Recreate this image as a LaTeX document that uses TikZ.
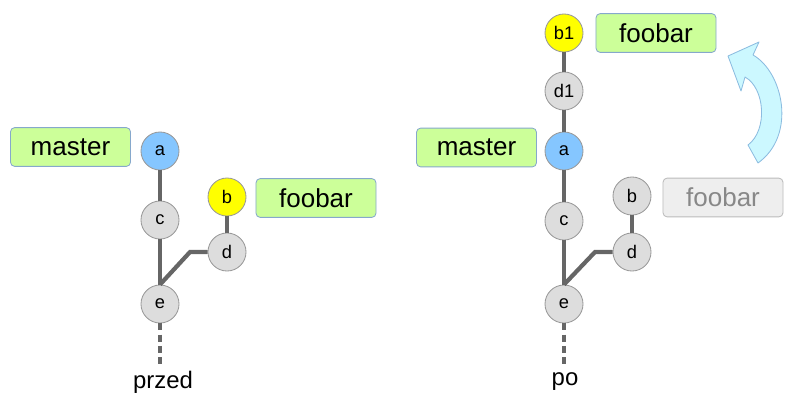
\documentclass[tikz,border=0pt]{standalone}
\usepackage{fontspec}
\setmainfont{Liberation Sans}
\usetikzlibrary{positioning}
\usetikzlibrary{calc}
\definecolor{edgegray}{HTML}{666666}
\definecolor{nodegray}{HTML}{DDDDDD}
\definecolor{rimgray}{HTML}{999999}
\definecolor{headblue}{HTML}{85C6FF}
\definecolor{tipyellow}{HTML}{FFFF00}
\definecolor{refgreen}{HTML}{CCFF99}
\definecolor{refrim}{HTML}{86A8CC}
\definecolor{oldfill}{HTML}{EEEEEE}
\definecolor{oldrim}{HTML}{BBBBBB}
\definecolor{oldtext}{HTML}{888888}
\definecolor{arrowfill}{HTML}{CCF8FF}
\definecolor{arrowrim}{HTML}{8CBCE0}

\begin{document}
\begin{tikzpicture}[x=0.025cm,y=-0.025cm,
commit/.style={shape=circle,draw=rimgray,fill=nodegray,line width=0.6pt,
  minimum size=0.95cm,inner sep=0pt,font=\fontsize{13}{15}\selectfont},
ref/.style={shape=rectangle,rounded corners=3pt,draw=refrim,fill=refgreen,
  line width=0.6pt,minimum width=3.0cm,minimum height=0.97cm,
  font=\fontsize{18.5}{20}\selectfont},
oldref/.style={ref,draw=oldrim,fill=oldfill,text=oldtext},
hist/.style={draw=edgegray,line width=3pt},
older/.style={hist,dash pattern=on 5pt off 3pt},
caption/.style={font=\fontsize{17}{19}\selectfont}]
\useasboundingbox (0,0) rectangle (800,401);

% przed
\path
(160,151) node [commit,fill=headblue](la) {a}
(160,220) node [commit](lc) {c}
(227,197) node [commit,fill=tipyellow](lb) {b}
(227,252) node [commit](ld) {d}
(160,304) node [commit](le) {e}
(70.5,147) node [ref](lmaster) {master}
(316,198) node [ref](lfoobar) {foobar}
(163,382) node [caption](lcap) {przed};
\coordinate (lk) at (190,252);
\coordinate (lend) at (160,367);
\draw [hist](la) --(lc);
\draw [hist](lc) --(le);
\draw [hist](lb) --(ld);
\draw [hist](ld) --(lk) --(le.north);
\draw [older](le) --(lend);

% po
\path
(564,33) node [commit,fill=tipyellow](rb1) {b1}
(564,91) node [commit](rd1) {d1}
(564,151) node [commit,fill=headblue](ra) {a}
(564,221) node [commit](rc) {c}
(632,196) node [commit](rb) {b}
(632,252) node [commit](rd) {d}
(564,304) node [commit](re) {e}
(656,33) node [ref](rfoobar) {foobar}
(476.5,147.5) node [ref](rmaster) {master}
(723,197.5) node [oldref](rold) {foobar}
(565,382) node [caption](rcap) {po};
\coordinate (rk) at (595,252);
\coordinate (rend) at (564,367);
\draw [hist](rb1) --(rd1);
\draw [hist](rd1) --(ra);
\draw [hist](ra) --(rc);
\draw [hist](rc) --(re);
\draw [hist](rb) --(rd);
\draw [hist](rd) --(rk) --(re.north);
\draw [older](re) --(rend);

% przesuniecie galezi
\draw [draw=arrowrim,fill=arrowfill,line width=0.6pt,line join=round]
(728,56) --(759,42) --(753,55)
.. controls (783,72) and (797,135) .. (758,163)
--(748,145)
.. controls (768,130) and (765,88) .. (745,77)
--(741,91) --cycle;

\end{tikzpicture}
\end{document}
